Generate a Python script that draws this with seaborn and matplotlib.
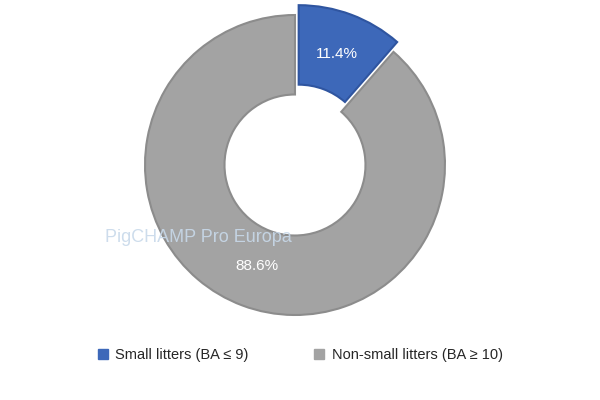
import matplotlib
matplotlib.use("Agg")
import matplotlib.pyplot as plt
import seaborn as sns
from matplotlib.patches import Patch

sns.set_theme(style="white")
plt.rcParams['font.family'] = ['Liberation Sans', 'DejaVu Sans']

categories = ["Small litters (BA \u2264 9)", "Non-small litters (BA \u2265 10)"]
values = [11.4, 88.6]
colors = ["#3d68b9", "#a3a3a3"]
edges = ["#2f55a0", "#8c8c8c"]

fig = plt.figure(figsize=(6, 4), dpi=100)
ax = fig.add_axes([0.225, 0.1875, 0.5333, 0.8])
wedges, texts, autotexts = ax.pie(values, colors=colors, startangle=90, counterclock=False,
       explode=[0.07, 0], radius=1.0, autopct=lambda p: f"{p:.1f}%", pctdistance=0.72,
       wedgeprops=dict(width=0.53, linewidth=1.5),
       textprops=dict(color="white", fontsize=11))
for w, e in zip(wedges, edges):
    w.set_edgecolor(e)
ax.set_xlim(-1.0667, 1.0667)
ax.set_ylim(-1.0667, 1.0667)
ax.set_aspect("equal")
ax.axis("off")

fig.text(0.175, 0.395, "PigCHAMP Pro Europa", color="#c8d9ea", fontsize=13, alpha=0.9)

handles = [Patch(facecolor=c, edgecolor=c) for c in colors]
fig.legend(handles, categories, loc="center", bbox_to_anchor=(0.5, 0.113), ncol=2,
           frameon=False, fontsize=10.5, handlelength=0.7, handleheight=0.7,
           columnspacing=4.5, handletextpad=0.5)
fig.savefig("out.png", dpi=100)
